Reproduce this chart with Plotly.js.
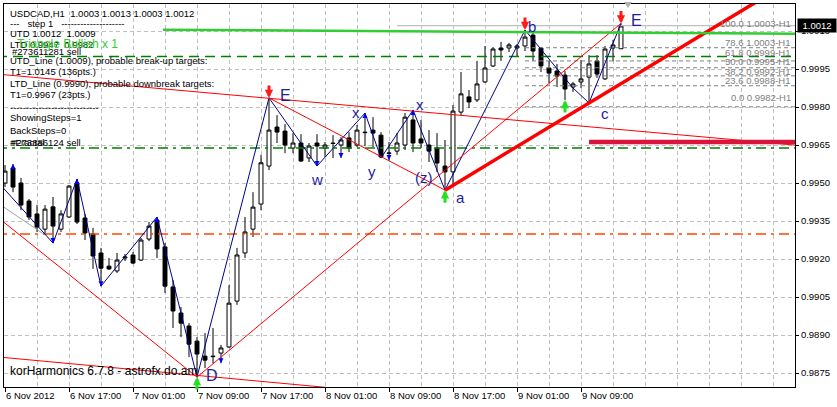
<!DOCTYPE html>
<html><head><meta charset="utf-8">
<script src="https://cdn.plot.ly/plotly-3.0.1.min.js"></script>
<style>html,body{margin:0;padding:0;background:#fff}#chart{width:837px;height:407px}</style>
</head><body><div id="chart"></div>
<script>
// ---- candle times (H1 bars) ----
const times = [
'2012-11-06 09:00','2012-11-06 10:00','2012-11-06 11:00','2012-11-06 12:00','2012-11-06 13:00','2012-11-06 14:00','2012-11-06 15:00','2012-11-06 16:00','2012-11-06 17:00','2012-11-06 18:00','2012-11-06 19:00','2012-11-06 20:00','2012-11-06 21:00','2012-11-06 22:00','2012-11-06 23:00',
'2012-11-07 00:00','2012-11-07 01:00','2012-11-07 02:00','2012-11-07 03:00','2012-11-07 04:00','2012-11-07 05:00','2012-11-07 06:00','2012-11-07 07:00','2012-11-07 08:00','2012-11-07 09:00','2012-11-07 10:00','2012-11-07 11:00','2012-11-07 12:00','2012-11-07 13:00','2012-11-07 14:00','2012-11-07 15:00','2012-11-07 16:00','2012-11-07 17:00','2012-11-07 18:00','2012-11-07 19:00','2012-11-07 20:00','2012-11-07 21:00','2012-11-07 22:00','2012-11-07 23:00',
'2012-11-08 00:00','2012-11-08 01:00','2012-11-08 02:00','2012-11-08 03:00','2012-11-08 04:00','2012-11-08 05:00','2012-11-08 06:00','2012-11-08 07:00','2012-11-08 08:00','2012-11-08 09:00','2012-11-08 10:00','2012-11-08 11:00','2012-11-08 12:00','2012-11-08 13:00','2012-11-08 14:00','2012-11-08 15:00','2012-11-08 16:00','2012-11-08 17:00','2012-11-08 18:00','2012-11-08 19:00','2012-11-08 20:00','2012-11-08 21:00','2012-11-08 22:00','2012-11-08 23:00',
'2012-11-09 00:00','2012-11-09 01:00','2012-11-09 02:00','2012-11-09 03:00','2012-11-09 04:00','2012-11-09 05:00','2012-11-09 06:00','2012-11-09 07:00','2012-11-09 08:00','2012-11-09 09:00','2012-11-09 10:00','2012-11-09 11:00','2012-11-09 12:00','2012-11-09 13:00','2012-11-09 14:00'];

const open = [0.99500,0.99559,0.99500,0.99429,0.99378,0.99318,0.99406,0.99318,0.99366,0.99500,0.99362,0.99299,0.99224,0.99172,0.99153,
0.99204,0.99216,0.99196,0.99279,0.99354,0.99248,0.99090,0.98987,0.98936,0.98876,0.98817,0.98817,0.98829,0.98853,0.99034,0.99224,0.99318,0.99417,0.99567,0.99721,0.99705,0.99638,0.99658,0.99599,
0.99658,0.99638,0.99658,0.99650,0.99678,0.99650,0.99701,0.99709,0.99689,0.99619,0.99626,0.99650,0.99749,0.99674,0.99650,0.99638,0.99567,0.99544,0.99780,0.99840,0.99828,0.99899,0.99962,1.00033,
1.00033,1.00033,1.00041,1.00084,1.00033,0.99954,0.99942,0.99926,0.99879,0.99899,0.99918,0.99982,0.99911,1.00033,1.00030];
const high = [0.99571,0.99575,0.99520,0.99437,0.99414,0.99413,0.99445,0.99393,0.99492,0.99516,0.99378,0.99323,0.99244,0.99204,0.99224,
0.99220,0.99228,0.99283,0.99346,0.99366,0.99263,0.99117,0.99011,0.98947,0.98892,0.98908,0.98928,0.98861,0.99097,0.99244,0.99366,0.99464,0.99611,0.99836,0.99768,0.99733,0.99697,0.99693,0.99658,
0.99693,0.99662,0.99689,0.99681,0.99701,0.99729,0.99776,0.99760,0.99701,0.99662,0.99697,0.99776,0.99788,0.99749,0.99709,0.99697,0.99670,0.99808,0.99938,0.99867,0.99982,1.00041,1.00037,1.00057,
1.00053,1.00049,1.00104,1.00092,1.00037,0.99982,0.99970,0.99942,0.99899,0.99986,1.00005,1.00005,1.00041,1.00065,1.00130];
const low = [0.99484,0.99464,0.99393,0.99354,0.99307,0.99295,0.99263,0.99307,0.99362,0.99338,0.99275,0.99161,0.99093,0.99157,0.99145,
0.99192,0.99180,0.99192,0.99271,0.99204,0.99066,0.98928,0.98892,0.98813,0.98734,0.98770,0.98789,0.98789,0.98849,0.99019,0.99204,0.99287,0.99393,0.99551,0.99658,0.99618,0.99618,0.99583,0.99583,
0.99567,0.99603,0.99599,0.99599,0.99622,0.99642,0.99646,0.99642,0.99599,0.99591,0.99611,0.99630,0.99622,0.99638,0.99583,0.99544,0.99472,0.99484,0.99768,0.99796,0.99820,0.99895,0.99958,0.99982,
1.00017,1.00001,1.00021,0.99982,0.99938,0.99895,0.99879,0.99828,0.99859,0.99875,0.99816,0.99915,0.99907,0.99982,1.00030];
const close = [0.99547,0.99484,0.99413,0.99366,0.99326,0.99397,0.99330,0.99378,0.99488,0.99346,0.99303,0.99212,0.99164,0.99161,0.99196,
0.99208,0.99184,0.99275,0.99330,0.99240,0.99093,0.98995,0.98947,0.98864,0.98825,0.98801,0.98815,0.98849,0.99026,0.99216,0.99307,0.99405,0.99580,0.99709,0.99701,0.99650,0.99658,0.99587,0.99646,
0.99646,0.99650,0.99656,0.99670,0.99638,0.99709,0.99699,0.99697,0.99603,0.99617,0.99658,0.99760,0.99658,0.99658,0.99626,0.99579,0.99544,0.99784,0.99852,0.99820,0.99891,0.99954,1.00029,1.00025,
1.00045,1.00041,1.00076,1.00021,0.99962,0.99934,0.99922,0.99871,0.99891,0.99911,0.99970,0.99930,1.00029,1.00045,1.00120];

// ---- axis ticks ----
const xTickVals = ['2012-11-06 09:00','2012-11-06 17:00','2012-11-07 01:00','2012-11-07 09:00','2012-11-07 17:00','2012-11-08 01:00','2012-11-08 09:00','2012-11-08 17:00','2012-11-09 01:00','2012-11-09 09:00'];
const xTickText = ['6 Nov 2012','6 Nov 17:00','7 Nov 01:00','7 Nov 09:00','7 Nov 17:00','8 Nov 01:00','8 Nov 09:00','8 Nov 17:00','9 Nov 01:00','9 Nov 09:00'];
const yTickVals = [0.9875,0.9890,0.9905,0.9920,0.9935,0.9950,0.9965,0.9980,0.9995,1.0010];

// ---- zigzag (wave) line ----
const zigT = ['2012-11-06 08:00','2012-11-06 15:00','2012-11-06 18:00','2012-11-06 21:00','2012-11-07 04:00','2012-11-07 09:00','2012-11-07 18:00','2012-11-08 00:00','2012-11-08 06:00','2012-11-08 08:00','2012-11-08 12:00','2012-11-08 16:00','2012-11-09 02:00','2012-11-09 08:00','2012-11-09 10:00','2012-11-09 14:00'];
const zigP = [0.99508,0.99263,0.99516,0.99093,0.99366,0.98734,0.99836,0.99567,0.99776,0.99599,0.99788,0.99472,1.00104,0.99875,0.99816,1.00130];
const grayT = ['2012-11-06 08:00','2012-11-06 14:00'];
const grayP = [0.99423,0.99295];

// ---- trend lines ----
const lEdge = '2012-11-06 08:00', rEdge = '2012-11-10 12:00';
const chanUpP = [0.99930,0.99649];
const chanLoP = [0.98814,0.98521];
const leftDiagT = ['2012-11-06 08:00','2012-11-07 09:00'], leftDiagP = [0.99367,0.98734];
const eaT = ['2012-11-07 18:00','2012-11-08 16:00'], eaP = [0.99836,0.99472];
const deT = ['2012-11-07 09:00','2012-11-09 14:00'], deP = [0.98734,1.00130];
const acT = ['2012-11-08 16:00','2012-11-10 12:00'], acP = [0.99472,1.00312];
const crimsonT = ['2012-11-09 10:00','2012-11-10 12:00'], crimsonP = 0.99662;
const utdT = ['2012-11-07 04:45','2012-11-10 12:00'], utdP = [1.00105,1.00089];
const greenDashP = 0.99999, greenDashDotP = 0.99638, orangeP = 0.99299;
const fib100Start = '2012-11-08 10:00', fib100P = 1.00121;
const fibStart = '2012-11-09 02:00';
const fibP = [1.00034,0.99982,0.99955,0.99923,0.99884,0.99801];
const fibTexts = ['100.0 1.0003-H1','78.6 1.0003-H1','61.8 0.9999-H1','50.0 0.9995-H1','38.2 0.9992-H1','23.6 0.9988-H1','0.0 0.9982-H1'];

// fractal / wave points (bar indices)
const fracUpIdx = [1,9,19,45,51];
const fracDnIdx = [6,12,27,39,42,48];
const redArrowIdx = [33,65,77];
const greenArrowIdx = [24,55,70];

const infoLines = [
 'USDCAD,H1  1.0003 1.0013 1.0003 1.0012',
 '---   step 1   --------------------',
 'UTD 1.0012  1.0009',
 'LTD 0.9947  0.9982',
 'UTD_Line (1.0009), probable break-up targets:',
 'T1=1.0145 (136pts.)',
 'LTD_Line (0.9990), probable downbreak targets:',
 'T1=0.9967 (23pts.)',
 '----------------------------',
 'ShowingSteps=1',
 'BackSteps=0',
 '#Fractal'
];

// ---- layout helpers (pixel -> paper) ----
const PL=4, PR=795, PT=4, PB=387;
const px = x => (x-PL)/(PR-PL);
const py = y => 1-(y-PT)/(PB-PT);
const FONT = 'Liberation Sans, Arial, sans-serif';
const WAVE = '#1e1e9e';

const traces = [];
traces.push({type:'candlestick', x:times, open:open, high:high, low:low, close:close,
  increasing:{line:{color:'#000',width:1}, fillcolor:'#fff'},
  decreasing:{line:{color:'#000',width:1}, fillcolor:'#000'},
  whiskerwidth:0, hoverinfo:'skip'});

function line(x,y,color,width,dash){traces.push({type:'scatter',mode:'lines',x:x,y:y,line:{color:color,width:width,dash:dash||'solid'},hoverinfo:'skip'});}
line([lEdge,rEdge],[orangeP,orangeP],'#ff4500',1.5,'10px,5px,3px,5px');
line([lEdge,rEdge],[greenDashDotP,greenDashDotP],'#008000',1.5,'10px,5px,3px,5px');
line([lEdge,rEdge],[greenDashP,greenDashP],'#008000',1.5,'10px,6px');
fibP.forEach(p=>line([fibStart,rEdge],[p,p],'#808080',1,'4px,3px'));
line([fib100Start,rEdge],[fib100P,fib100P],'#c0c0c0',1.2);
line(grayT,grayP,'#a0a0a0',1);
line(zigT,zigP,'#00008b',1);
line([lEdge,rEdge],chanUpP,'#ff0000',1);
line([lEdge,rEdge],chanLoP,'#ff0000',1);
line(leftDiagT,leftDiagP,'#ff0000',1);
line(eaT,eaP,'#ff0000',1);
line(deT,deP,'#ff0000',1);
line(acT,acP,'#ff0000',3.5);
line(crimsonT,[crimsonP,crimsonP],'#dc143c',4.5);
line(utdT,utdP,'#32cd32',2.5);

traces.push({type:'scatter',mode:'markers',x:fracUpIdx.map(i=>times[i]),y:fracUpIdx.map(i=>high[i]),
  marker:{symbol:'arrow-up',size:5,color:'#0000ff'},hoverinfo:'skip'});
traces.push({type:'scatter',mode:'markers',x:fracDnIdx.map(i=>times[i]),y:fracDnIdx.map(i=>low[i]),
  marker:{symbol:'arrow-down',size:5,color:'#0000ff'},hoverinfo:'skip'});

const ann = [];
// top-left info
const infoY = [13,23,34,45,60,71,83,95,107,118,130,142];
infoLines.forEach((t,k)=>ann.push({xref:'paper',yref:'paper',x:px(8),y:py(infoY[k]),xanchor:'left',yanchor:'middle',showarrow:false,text:t,font:{family:FONT,size:9.5,color:'#000'}}));
ann.push({xref:'paper',yref:'paper',x:px(9),y:py(142),xanchor:'left',yanchor:'middle',showarrow:false,text:'#273886124 sell',font:{family:FONT,size:9.5,color:'#000'}});
ann.push({xref:'paper',yref:'paper',x:px(10),y:py(51),xanchor:'left',yanchor:'middle',showarrow:false,text:'#273611281 sell',font:{family:FONT,size:9.5,color:'#000'}});
ann.push({xref:'paper',yref:'paper',x:px(15),y:py(44),xanchor:'left',yanchor:'middle',showarrow:false,text:'Triangle Bullish x 1',font:{family:FONT,size:12,color:'#32cd32'}});
ann.push({xref:'paper',yref:'paper',x:px(8),y:py(371),xanchor:'left',yanchor:'middle',showarrow:false,text:'korHarmonics 6.7.8 - astrofx.do.am',font:{family:FONT,size:12,color:'#000'}});
// fib labels
const fibTextY = [23,43,53,62,71,80,97];
fibTexts.forEach((t,k)=>ann.push({xref:'paper',yref:'paper',x:px(793),y:py(fibTextY[k]),xanchor:'right',yanchor:'middle',showarrow:false,text:t,font:{family:FONT,size:9.5,color:'#808080'}}));
// wave labels
function wl(t,i,useHigh,xs,ys,size){ann.push({x:times[i],y:useHigh?high[i]:low[i],xshift:xs,yshift:ys,showarrow:false,text:t,font:{family:FONT,size:size||15,color:WAVE},xanchor:'center',yanchor:'middle'});}
wl('E',33,true,16,2,16);
wl('w',39,false,0,-13);
wl('x',45,true,-9,1);
wl('y',47,false,-9,-14);
wl('x',51,true,7,6);
wl('(z)',55,false,-21,13);
wl('a',55,false,15,-7);
wl('b',65,true,7,4);
wl('c',73,false,16,-11);
wl('E',77,true,15,3,16);
wl('D',24,false,15,2,16);
// arrows
redArrowIdx.forEach(i=>ann.push({x:times[i],y:high[i],showarrow:true,ax:0,ay:-14,arrowhead:2,arrowsize:0.55,arrowwidth:3,arrowcolor:'#ff1a1a',text:'',standoff:0}));
greenArrowIdx.forEach(i=>ann.push({x:times[i],y:low[i],showarrow:true,ax:0,ay:14,arrowhead:2,arrowsize:0.55,arrowwidth:3,arrowcolor:'#22e022',text:'',standoff:0}));
// current price box
ann.push({xref:'paper',yref:'y',x:1,xshift:2,y:close[close.length-1],xanchor:'left',yanchor:'middle',showarrow:false,text:close[close.length-1].toFixed(4),bgcolor:'#000',font:{family:FONT,size:9.5,color:'#fff'},borderpad:1,width:36});

const shapes = [{type:'path',xref:'paper',yref:'paper',path:`M ${px(624)},${py(2)} L ${px(632)},${py(2)} L ${px(628)},${py(8)} Z`,fillcolor:'#b0b0b0',line:{width:0}}];

const layout = {
  width:837,height:407,margin:{l:PL,r:837-PR,t:PT,b:407-PB},
  paper_bgcolor:'#fff',plot_bgcolor:'#fff',showlegend:false,
  font:{family:FONT,size:9.5,color:'#000'},
  xaxis:{type:'date',range:['2012-11-06 08:52:30','2012-11-10 11:45'],rangeslider:{visible:false},
    tickmode:'array',tickvals:xTickVals,ticktext:xTickText,ticks:'outside',ticklen:4,tickcolor:'#000',
    ticklabelposition:'outside right',showgrid:true,gridcolor:'#c0c0c0',griddash:'4px,3px',gridwidth:1,
    minor:{tick0:'2012-11-06 09:00',dtick:14400000,showgrid:true,gridcolor:'#c0c0c0',griddash:'4px,3px',ticks:''},
    showline:true,mirror:true,linecolor:'#000',linewidth:1,zeroline:false,fixedrange:true,
    tickfont:{family:FONT,size:9.5,color:'#000'}},
  yaxis:{range:[0.98695,1.002066],side:'right',tickmode:'array',tickvals:yTickVals,
    ticktext:yTickVals.map(v=>v.toFixed(4)),ticks:'outside',ticklen:3,tickcolor:'#000',
    showgrid:true,gridcolor:'#c0c0c0',griddash:'4px,3px',gridwidth:1,
    showline:true,mirror:true,linecolor:'#000',linewidth:1,zeroline:false,fixedrange:true,
    tickfont:{family:FONT,size:9.5,color:'#000'}},
  annotations:ann, shapes:shapes
};
Plotly.newPlot('chart',traces,layout,{staticPlot:true,displayModeBar:false});
</script></body></html>
